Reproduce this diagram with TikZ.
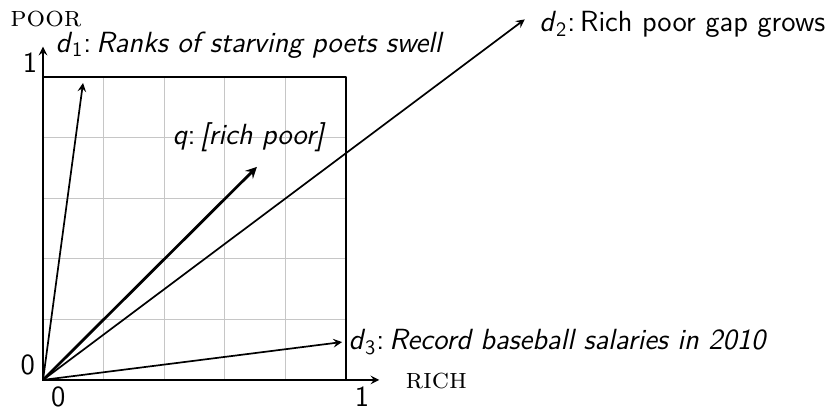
\documentclass[tikz,border=0pt]{standalone}
\begin{document}
\begin{tikzpicture}[x=5cm,y=5cm,>=stealth,line join=round,line cap=round,font=\sffamily\fontsize{13.7}{15}\selectfont,
	lbl/.style={anchor=west,inner sep=0pt}]
				\useasboundingbox (-0.142,-0.089) rectangle (2.591,1.254);
				\path (0,0) coordinate (O)
				(1,1) coordinate (T)
				(1.11,0) coordinate (X)
				(0,1.10) coordinate (Y)
				(0.132,0.98) coordinate (D1)
				(1.59,1.19) coordinate (D2)
				(0.987,0.125) coordinate (D3)
				(0.706,0.703) coordinate (Q);
				\foreach \i in {0.2,0.4,0.6,0.8}{\draw[gray!45,semithick] (\i,0)--(\i,1) (0,\i)--(1,\i);}
				\draw[line width=1.2pt] (O) rectangle (T);
				\draw[->,thick] (O)--(X);
				\draw[->,thick] (O)--(Y);
				\foreach \v in {D1,D2,D3}{\draw[->,thick] (O)--(\v);}
				\draw[->,line width=1.3pt] (O)--(Q); % vecteur requete
				\node[lbl] (P) at (-0.109,1.19) {\rmfamily\textsc{poor}};
				\node[lbl] (R) at (1.195,-0.003) {\rmfamily\textsc{rich}};
				\foreach \n/\x/\y/\t in {Y1/-0.043/1.047/1,Y0/-0.05/0.05/0,X0/0.05/-0.056/0,X1/1.053/-0.056/1}
				{\node (\n) at (\x,\y) {\t};}
				\node[lbl] (L1) at (0.04,1.106) {\textit{d}\textsubscript{1}:\,\textit{Ranks of starving poets swell}};
				\node[lbl] (L2) at (1.637,1.172) {\textit{d}\textsubscript{2}:\,Rich poor gap grows};
				\node[lbl] (L3) at (1.007,0.125) {\textit{d}\textsubscript{3}:\,\textit{Record baseball salaries in 2010}};
				\node[lbl] (LQ) at (0.426,0.802) {\textit{q}:\,\textit{[rich poor]}};
\end{tikzpicture}
\end{document}
